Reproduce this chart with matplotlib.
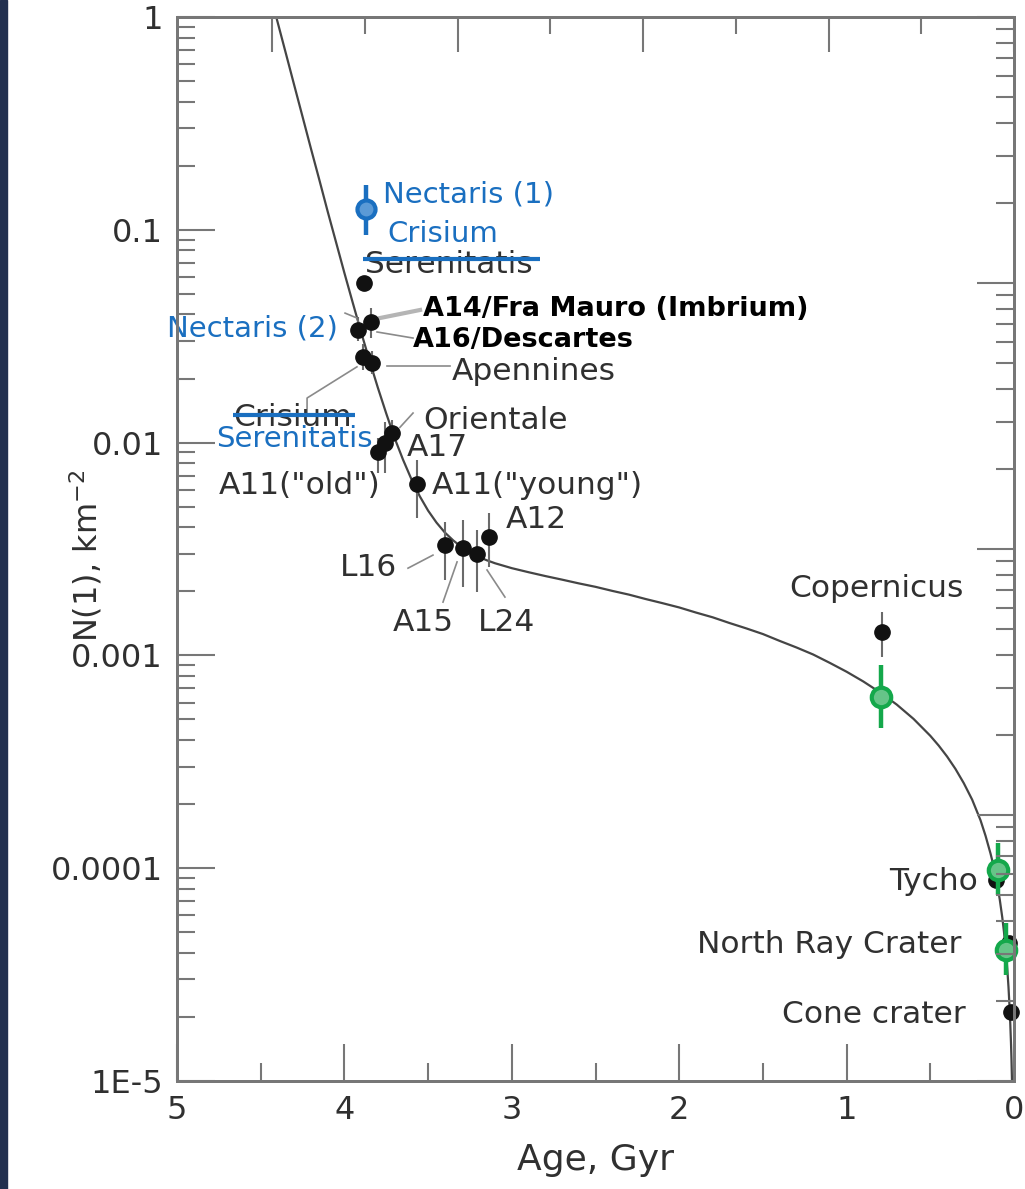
import matplotlib
matplotlib.use("Agg")
import matplotlib.pyplot as plt
from matplotlib.patches import Rectangle
from matplotlib.ticker import FixedLocator, NullFormatter, LogLocator

# chronology curve (age in Gyr, N(1) per km^2)
curve_age = [4.41, 4.35, 4.30, 4.25, 4.20, 4.15, 4.10, 4.05, 4.00, 3.95, 3.90,
             3.85, 3.80, 3.75, 3.70, 3.65, 3.60, 3.55, 3.50, 3.45, 3.40, 3.35,
             3.30, 3.25, 3.20, 3.15, 3.10, 3.00, 2.90, 2.80, 2.70, 2.60, 2.50,
             2.40, 2.30, 2.20, 2.10, 2.00, 1.90, 1.80, 1.70, 1.60, 1.50, 1.40,
             1.30, 1.20, 1.10, 1.00, 0.90, 0.80, 0.70, 0.60, 0.50, 0.45, 0.40,
             0.35, 0.30, 0.25, 0.20, 0.17, 0.14, 0.12, 0.10, 0.085, 0.07, 0.06,
             0.05, 0.04, 0.033, 0.027, 0.022, 0.018, 0.015, 0.012]
curve_n = [1.02, 0.676, 0.479, 0.340, 0.241, 0.172, 0.122, 0.0875, 0.0627,
           0.0454, 0.0330, 0.0243, 0.0181, 0.0137, 0.0105, 0.00832, 0.00674,
           0.0056, 0.00479, 0.00421, 0.00378, 0.00347, 0.00323, 0.00305,
           0.00291, 0.0028, 0.00271, 0.00257, 0.00246, 0.00236, 0.00227,
           0.00218, 0.0021, 0.00201, 0.00193, 0.00184, 0.00176, 0.00168,
           0.00159, 0.00151, 0.00142, 0.00134, 0.00126, 0.00117, 0.00109,
           0.00101, 0.000922, 0.000838, 0.000754, 0.00067, 0.000587,
           0.000503, 0.000419, 0.000377, 0.000335, 0.000293, 0.000251,
           0.00021, 0.000168, 0.000142, 0.000117, 0.000101, 8.38e-5, 7.12e-5,
           5.87e-5, 5.03e-5, 4.19e-5, 3.35e-5, 2.77e-5, 2.26e-5, 1.84e-5,
           1.51e-5, 1.26e-5, 1.0e-5]

# black samples
samp_age = [3.88, 3.84, 3.92, 3.89, 3.835, 3.715, 3.757, 3.80, 3.566, 3.40,
            3.29, 3.21, 3.136, 0.79, 0.11, 0.03, 0.018]
samp_n = [0.0562, 0.0369, 0.0338, 0.0252, 0.0237, 0.0111, 0.00995, 0.00903,
          0.00639, 0.0033, 0.0032, 0.0030, 0.0036, 0.00129, 8.8e-5, 4.45e-5,
          2.11e-5]
samp_lo = [0.0562, 0.031, 0.030, 0.022, 0.021, 0.0095, 0.0072, 0.0072,
           0.00442, 0.00226, 0.00209, 0.00199, 0.0026, 0.00098, 8.8e-5,
           4.45e-5, 2.11e-5]
samp_hi = [0.0562, 0.0429, 0.039, 0.029, 0.027, 0.0128, 0.0125, 0.0105,
           0.00828, 0.00424, 0.00433, 0.00388, 0.00467, 0.0016, 8.8e-5,
           4.45e-5, 2.11e-5]

# new (green) ages of young craters
new_age = [0.795, 0.096, 0.048]
new_n = [0.000638, 9.8e-5, 4.13e-5]
new_lo = [0.000456, 7.48e-5, 3.15e-5]
new_hi = [0.000901, 1.31e-4, 5.52e-5]

# blue Nectaris (1)
nec_age = [3.87]
nec_n = [0.125]
nec_lo = [0.0945]
nec_hi = [0.163]

y_ticks = [1e-5, 1e-4, 1e-3, 1e-2, 1e-1, 1]
y_labels = ["1E-5", "0.0001", "0.001", "0.01", "0.1", "1"]
x_ticks = [5, 4, 3, 2, 1, 0]
top_major = [4.432, 3.324, 2.216, 1.108, 0.0]
top_minor = [3.878, 2.770, 1.662, 0.554]

# original gray labels: text, age, N, ha
gray_labels = [
    ("Serenitatis", 3.877, 0.069, "left"),
    ("Apennines", 3.357, 0.0215, "left"),
    ("Crisium", 4.665, 0.01305, "left"),
    ("Orientale", 3.53, 0.01277, "left"),
    ("A17", 3.626, 0.00953, "left"),
    ('A11("old")', 3.787, 0.00632, "right"),
    ('A11("young")', 3.477, 0.00632, "left"),
    ("A12", 3.035, 0.00437, "left"),
    ("L16", 3.686, 0.0026, "right"),
    ("A15", 3.71, 0.00142, "left"),
    ("L24", 3.202, 0.00142, "left"),
    ("Copernicus", 0.824, 0.00207, "center"),
    ("Tycho", 0.215, 8.7e-5, "right"),
    ("North Ray Crater", 0.311, 4.36e-5, "right"),
    ("Cone crater", 0.287, 2.06e-5, "right"),
]
blue_labels = [
    ("Nectaris (1)", 3.769, 0.147, "left"),
    ("Crisium", 3.746, 0.0955, "left"),
    ("Nectaris (2)", 4.038, 0.0342, "right"),
    ("Serenitatis", 4.767, 0.0104, "left"),
]
bold_labels = [
    ("A14/Fra Mauro (Imbrium)", 3.53, 0.0425, "left"),
    ("A16/Descartes", 3.59, 0.0303, "left"),
]
# leader lines of the original figure
leaders = [
    ([3.805, 3.590], [0.0331, 0.031]),
    ([3.996, 3.925], [0.0406, 0.0385]),
    ([3.746, 3.369], [0.0229, 0.0229]),
    ([4.223, 4.223, 3.925], [0.01377, 0.0162, 0.0227]),
    ([3.668, 3.59], [0.0118, 0.01377]),
    ([3.62, 3.471], [0.00257, 0.00296]),
    ([3.411, 3.327], [0.00178, 0.00275]),
    ([3.041, 3.148], [0.00188, 0.00252]),
]
a14_leader = ([3.787, 3.548], [0.0385, 0.042])
# strike-through lines
strikes = [([3.889, 2.832], [0.0729, 0.0729]),
           ([4.665, 3.937], [0.0135, 0.0135])]

blue = "#1a6fc0"
green = "#14a84b"
axis_gray = "#777777"
text_gray = "#303030"
font = "DejaVu Sans"

fig = plt.figure(figsize=(10.25, 11.89), dpi=100)
fig.patches.append(Rectangle((0, 0), 7 / 1025, 1, transform=fig.transFigure,
                             color="#22304f", zorder=0))
ax = fig.add_axes([177 / 1025, 108 / 1189, 837 / 1025, 1064 / 1189])
ax.set_yscale("log")
ax.set_xlim(5, 0)
ax.set_ylim(1e-5, 1)

ax.plot(curve_age, curve_n, color="#454545", lw=1.6, zorder=2)

for xs, ys in leaders:
    ax.plot(xs, ys, color="#8a8a8a", lw=1.2, zorder=2)
ax.plot(*a14_leader, color="#b5b5b5", lw=3, zorder=2)

yerr = [[n - lo for n, lo in zip(samp_n, samp_lo)],
        [hi - n for n, hi in zip(samp_n, samp_hi)]]
ax.errorbar(samp_age, samp_n, yerr=yerr, fmt="o", color="#111111",
            ms=11, ecolor="#6a6a6a", elinewidth=1.5, capsize=0, zorder=3,
            clip_on=False)

yerr = [[n - lo for n, lo in zip(new_n, new_lo)],
        [hi - n for n, hi in zip(new_n, new_hi)]]
ax.errorbar(new_age, new_n, yerr=yerr, fmt="o", color=green, mfc="#66c488",
            mec=green, mew=3, ms=14, elinewidth=3.2, capsize=0, zorder=5,
            clip_on=False)

yerr = [[n - lo for n, lo in zip(nec_n, nec_lo)],
        [hi - n for n, hi in zip(nec_n, nec_hi)]]
ax.errorbar(nec_age, nec_n, yerr=yerr, fmt="o", color=blue, mfc="#5b9ad6",
            mec=blue, mew=3, ms=13, elinewidth=3.2, capsize=0, zorder=5)

for s, x, y, ha in gray_labels:
    ax.text(x, y, s, ha=ha, va="center", fontsize=22.5, color=text_gray,
            family=font, zorder=4)
for s, x, y, ha in blue_labels:
    ax.text(x, y, s, ha=ha, va="center", fontsize=21, color=blue,
            family=font, zorder=6)
for s, x, y, ha in bold_labels:
    ax.text(x, y, s, ha=ha, va="center", fontsize=19.5, color="black",
            family=font, weight="bold", zorder=6)
for xs, ys in strikes:
    ax.plot(xs, ys, color=blue, lw=3, solid_capstyle="butt", zorder=7)

# left / bottom axes
ax.yaxis.set_major_locator(FixedLocator(y_ticks))
ax.set_yticklabels(y_labels)
ax.yaxis.set_minor_locator(LogLocator(base=10, subs=range(2, 10)))
ax.yaxis.set_minor_formatter(NullFormatter())
ax.set_xticks(x_ticks)
ax.set_xticklabels([str(t) for t in x_ticks])
ax.set_xticks([4.5, 3.5, 2.5, 1.5, 0.5], minor=True)
ax.tick_params(which="both", direction="in", color=axis_gray, width=1.5,
               top=False, right=False, labelsize=23, labelcolor=text_gray)
ax.tick_params(which="major", length=27)
ax.tick_params(which="minor", length=13)
ax.tick_params(axis="y", pad=10)
ax.tick_params(axis="x", pad=10)
for lab in ax.get_xticklabels() + ax.get_yticklabels():
    lab.set_family(font)

# top axis
ax_t = ax.twiny()
ax_t.set_xlim(5, 0)
ax_t.set_xticks(top_major)
ax_t.set_xticks(top_minor, minor=True)
ax_t.tick_params(which="both", direction="in", color=axis_gray, width=1.5,
                 labeltop=False, labelbottom=False, bottom=False)
ax_t.tick_params(which="major", length=25)
ax_t.tick_params(which="minor", length=12)

# right axis
ax_r = ax.twinx()
ax_r.set_yscale("log")
ax_r.set_ylim(1, 1e4)
ax_r.yaxis.set_major_locator(LogLocator(base=10))
ax_r.yaxis.set_minor_locator(LogLocator(base=10, subs=range(2, 10)))
ax_r.yaxis.set_major_formatter(NullFormatter())
ax_r.yaxis.set_minor_formatter(NullFormatter())
ax_r.tick_params(which="both", direction="in", color=axis_gray, width=1.5,
                 labelright=False, left=False)
ax_r.tick_params(which="major", length=27)
ax_r.tick_params(which="minor", length=13)

for a in (ax, ax_t, ax_r):
    for sp in a.spines.values():
        sp.set_color(axis_gray)
        sp.set_linewidth(2)

ax.set_xlabel("Age, Gyr", fontsize=26, color=text_gray, family=font,
              labelpad=12)
fig.text(86 / 1025, 1 - 556 / 1189, "N(1), km$^{-2}$", rotation=90,
         ha="center", va="center", fontsize=23, color=text_gray, family=font)

fig.savefig("out.png", dpi=100)
